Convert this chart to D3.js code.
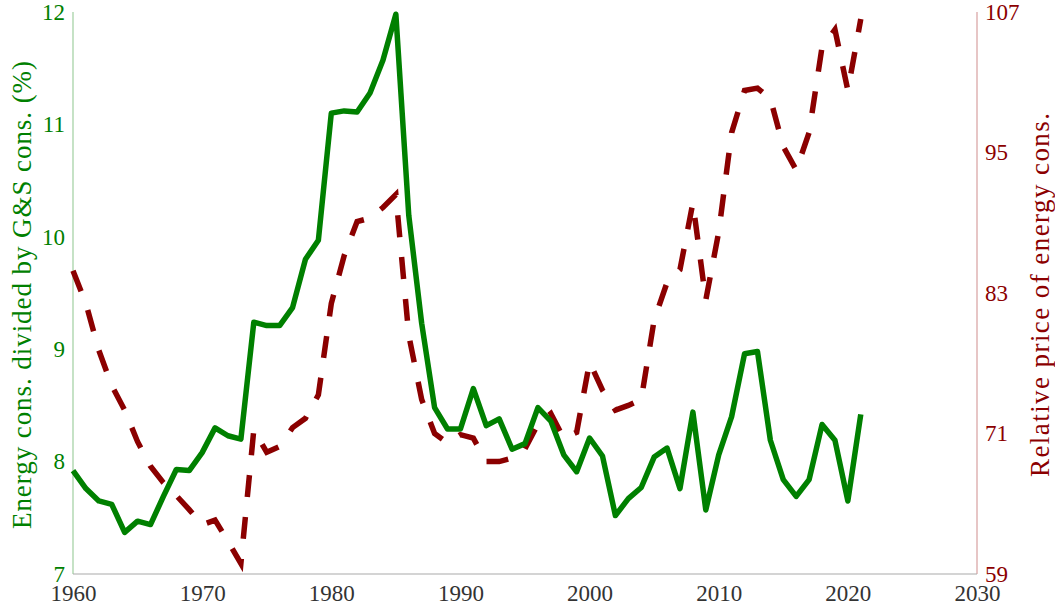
<!DOCTYPE html>
<meta charset="utf-8">
<title>Energy consumption share and relative price</title>
<style>
body { margin: 0; background: white; }
svg { font-family: "Liberation Serif", "DejaVu Serif", serif; }
.axis path { display: none; }
</style>
<body>
<div id="chart"></div>
<script src="https://d3js.org/d3.v7.min.js"></script>
<script>

// years on the x axis
const years = [1960, 1961, 1962, 1963, 1964, 1965, 1966, 1967, 1968, 1969,
  1970, 1971, 1972, 1973, 1974, 1975, 1976, 1977, 1978, 1979,
  1980, 1981, 1982, 1983, 1984, 1985, 1986, 1987, 1988, 1989,
  1990, 1991, 1992, 1993, 1994, 1995, 1996, 1997, 1998, 1999,
  2000, 2001, 2002, 2003, 2004, 2005, 2006, 2007, 2008, 2009,
  2010, 2011, 2012, 2013, 2014, 2015, 2016, 2017, 2018, 2019,
  2020, 2021];

// energy cons. / G&S cons. (%)  -- left axis
const energyShare = [7.92, 7.76, 7.65, 7.62, 7.37, 7.47, 7.44, 7.69, 7.93, 7.92,
  8.08, 8.30, 8.23, 8.20, 9.24, 9.21, 9.21, 9.37, 9.80, 9.97,
  11.10, 11.12, 11.11, 11.28, 11.57, 11.98, 10.19, 9.23, 8.48, 8.29,
  8.29, 8.65, 8.32, 8.38, 8.11, 8.16, 8.48, 8.36, 8.06, 7.91,
  8.21, 8.05, 7.52, 7.67, 7.77, 8.04, 8.12, 7.76, 8.44, 7.57,
  8.06, 8.40, 8.96, 8.98, 8.19, 7.84, 7.69, 7.84, 8.33, 8.19,
  7.65, 8.42];

// relative price of energy cons. -- right axis
const relPrice = [84.9, 82.1, 78.1, 75.1, 73.0, 70.3, 68.2, 66.8, 65.7, 64.5,
  63.2, 63.6, 61.8, 59.9, 71.3, 69.4, 69.9, 71.5, 72.3, 74.3,
  82.1, 86.2, 89.1, 89.4, 90.3, 91.4, 79.4, 73.9, 71.0, 70.2,
  70.9, 70.6, 68.6, 68.6, 68.9, 69.7, 71.8, 72.7, 70.6, 71.1,
  77.1, 74.7, 73.0, 73.4, 73.9, 80.7, 83.9, 85.0, 90.7, 82.4,
  88.2, 96.7, 100.3, 100.5, 99.6, 95.5, 93.5, 96.7, 104.0, 105.5,
  100.3, 106.4];

const xTicks = [1960, 1970, 1980, 1990, 2000, 2010, 2020, 2030];
const leftTicks = [7, 8, 9, 10, 11, 12];
const rightTicks = [59, 71, 83, 95, 107];

const W = 1055, H = 612;
const margin = {top: 12, right: 78, bottom: 38, left: 73};
const width = W - margin.left - margin.right,
      height = H - margin.top - margin.bottom;

const green = "#008000", red = "#8b0000";

const svg = d3.select("#chart").append("svg")
    .attr("width", W)
    .attr("height", H)
  .append("g")
    .attr("transform", "translate(" + margin.left + "," + margin.top + ")");

const x = d3.scaleLinear().domain([1960, 2030]).range([0, width]);
const yL = d3.scaleLinear().domain([7, 12]).range([height, 0]);
const yR = d3.scaleLinear().domain([59, 107]).range([height, 0]);

// spines
svg.append("line")
    .attr("x1", 0).attr("x2", 0).attr("y1", 0).attr("y2", height)
    .attr("stroke", "#9fcf9f").attr("stroke-width", 1.2);
svg.append("line")
    .attr("x1", width).attr("x2", width).attr("y1", 0).attr("y2", height)
    .attr("stroke", "#d7a0a0").attr("stroke-width", 1.2);
svg.append("line")
    .attr("x1", 0).attr("x2", width).attr("y1", height).attr("y2", height)
    .attr("stroke", "#aaaaaa").attr("stroke-width", 1.2);

// axes
svg.append("g")
    .attr("class", "axis")
    .attr("transform", "translate(0," + height + ")")
    .call(d3.axisBottom(x).tickValues(xTicks).tickFormat(d3.format("d")).tickSize(0).tickPadding(11))
    .call(g => g.selectAll("text").attr("fill", "#333").style("font-size", "23px"));

svg.append("g")
    .attr("class", "axis")
    .call(d3.axisLeft(yL).tickValues(leftTicks).tickFormat(d3.format("d")).tickSize(0).tickPadding(8))
    .call(g => g.selectAll("text").attr("fill", green).style("font-size", "23px"));

svg.append("g")
    .attr("class", "axis")
    .attr("transform", "translate(" + width + ",0)")
    .call(d3.axisRight(yR).tickValues(rightTicks).tickFormat(d3.format("d")).tickSize(0).tickPadding(8))
    .call(g => g.selectAll("text").attr("fill", red).style("font-size", "23px"));

d3.selectAll(".axis").attr("font-family", null);

// axis titles
svg.append("text")
    .attr("transform", "translate(" + (22 - margin.left) + "," + (height / 2 + 2) + ") rotate(-90)")
    .attr("text-anchor", "middle")
    .attr("dominant-baseline", "central")
    .attr("fill", green)
    .attr("textLength", 468)
    .attr("lengthAdjust", "spacing")
    .style("font-size", "27px")
    .text("Energy cons. divided by G&S cons. (%)");

svg.append("text")
    .attr("transform", "translate(" + (width + 63) + "," + (height / 2 + 2) + ") rotate(-90)")
    .attr("text-anchor", "middle")
    .attr("dominant-baseline", "central")
    .attr("fill", red)
    .attr("textLength", 364)
    .attr("lengthAdjust", "spacing")
    .style("font-size", "27px")
    .text("Relative price of energy cons.");

// lines
const pts = years.map((yr, i) => ({yr: yr, s: energyShare[i], p: relPrice[i]}));

svg.append("path")
    .datum(pts)
    .attr("fill", "none")
    .attr("stroke", red)
    .attr("stroke-width", 5.5)
    .attr("stroke-dasharray", "22,20")
    .attr("d", d3.line().x(d => x(d.yr)).y(d => yR(d.p)));

svg.append("path")
    .datum(pts)
    .attr("fill", "none")
    .attr("stroke", green)
    .attr("stroke-width", 5.5)
    .attr("stroke-linejoin", "round")
    .attr("d", d3.line().x(d => x(d.yr)).y(d => yL(d.s)));

</script>
</body>
